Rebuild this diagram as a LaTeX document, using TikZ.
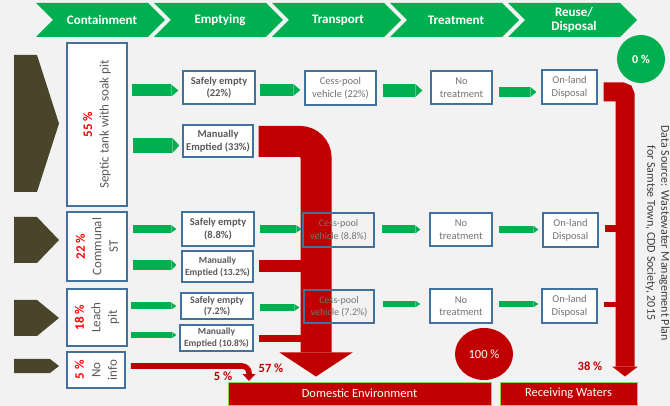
\documentclass[tikz,border=0pt]{standalone}
\usepackage{fontspec}
\setmainfont{Carlito}
\usetikzlibrary{arrows.meta,shapes.geometric,calc}
\definecolor{bgc}{HTML}{F2F2F2}
\definecolor{gr}{HTML}{00B050}
\definecolor{brn}{HTML}{4A452A}
\definecolor{bbl}{HTML}{41719C}
\definecolor{rd}{HTML}{C00000}
\definecolor{brd}{HTML}{FF0000}
\definecolor{lgr}{HTML}{92D050}
\definecolor{tg}{HTML}{595959}
\definecolor{tl}{HTML}{737373}
\definecolor{ds}{HTML}{404040}
\pgfdeclarelayer{bg}
\pgfdeclarelayer{mid}
\pgfsetlayers{bg,mid,main}
\begin{document}
\begin{tikzpicture}[x=1pt,y=-1pt,
  htext/.style={text=white, font=\bfseries\fontsize{13}{14}\selectfont, align=center, inner sep=0pt},
  cbox/.style={draw=bbl, line width=1.5pt, fill=white, inner sep=0pt},
  ctext/.style={rotate=90, align=center, text=tg, font=\fontsize{13}{16.5}\selectfont, inner sep=0pt},
  ebox/.style={draw=bbl, line width=1.3pt, fill=white, inner sep=0pt, align=center, text=tg, font=\bfseries\fontsize{10.5}{12.5}\selectfont},
  tbox/.style={draw=bbl, line width=1.3pt, fill=white, inner sep=0pt, align=center, text=tl, font=\fontsize{10.5}{12.5}\selectfont},
  garr/.style 2 args={draw=gr, line width=#1, -{Triangle[length=#2,width=#1,line width=0pt]}},
  rline/.style={draw=rd, line width=#1},
  endbox/.style={draw=lgr, line width=1pt, fill=rd, text=white, inner sep=0pt, font=\fontsize{12.5}{14}\selectfont},
  pct/.style={text=rd, font=\bfseries\fontsize{12.5}{14}\selectfont, inner sep=0pt}
]
\begin{pgfonlayer}{bg}
\fill[bgc] (0,0) rectangle (670,406);
\end{pgfonlayer}
\useasboundingbox (0,0) rectangle (670,406);

% header chevrons
\fill[gr] (36,3) -- (148,3) -- (165,20) -- (148,37) -- (36,37) -- (53,20) -- cycle;
\node[htext] (h1) at (102,20) {Containment};
\fill[gr] (154,3) -- (266,3) -- (283,20) -- (266,37) -- (154,37) -- (171,20) -- cycle;
\node[htext] (h2) at (220,20) {Emptying};
\fill[gr] (272,3) -- (384,3) -- (401,20) -- (384,37) -- (272,37) -- (289,20) -- cycle;
\node[htext] (h3) at (338,20) {Transport};
\fill[gr] (390,3) -- (502,3) -- (519,20) -- (502,37) -- (390,37) -- (407,20) -- cycle;
\node[htext] (h4) at (456,20) {Treatment};
\fill[gr] (508,3) -- (620,3) -- (637,20) -- (620,37) -- (508,37) -- (525,20) -- cycle;
\node[htext] (h5) at (574,20) {Reuse/\\Disposal};

% brown source chevrons
\fill[brn] (14,55) -- (37,55) -- (59,123.5) -- (37,192) -- (14,192) -- cycle;
\fill[brn] (14,217) -- (37,217) -- (59,240) -- (37,263) -- (14,263) -- cycle;
\fill[brn] (14,300) -- (37,300) -- (59,318) -- (37,336) -- (14,336) -- cycle;
\fill[brn] (14,359) -- (50,359) -- (59,366) -- (50,373) -- (14,373) -- cycle;

% containment boxes
\node[cbox, minimum width=60, minimum height=163] (sep) at (97,124.5) {};
\node[ctext] (sept) at (sep) {\textcolor{brd}{\bfseries 55 \%}\\Septic tank with soak pit};
\node[cbox, minimum width=60, minimum height=69] (com) at (97,246.5) {};
\node[ctext] (comt) at (com) {\textcolor{brd}{\bfseries 22 \%}\\Communal\\ST};
\node[cbox, minimum width=60, minimum height=57] (lea) at (97,317.5) {};
\node[ctext] (leat) at (lea) {\textcolor{brd}{\bfseries 18 \%}\\Leach\\pit};
\node[cbox, minimum width=58, minimum height=36] (noi) at (96,370) {};
\node[ctext] (noit) at (noi) {\textcolor{brd}{\bfseries 5 \%}\\No\\info};

% emptying boxes
\node[ebox, minimum width=72, minimum height=33] (sa1) at (219,87.5) {Safely empty\\(22\%)};
\node[ebox, minimum width=70, minimum height=32] (me1) at (218,141) {Manually\\Emptied (33\%)};
\node[ebox, minimum width=72, minimum height=34] (sa2) at (218,229) {Safely empty\\(8.8\%)};
\node[ebox, minimum width=71, minimum height=31, font=\bfseries\fontsize{9.5}{12}\selectfont] (me2) at (217.5,266.5) {Manually\\Emptied (13.2\%)};
\node[ebox, minimum width=72, minimum height=26, font=\bfseries\fontsize{10}{11.5}\selectfont] (sa3) at (217,306) {Safely empty\\(7.2\%)};
\node[ebox, minimum width=73, minimum height=26, font=\bfseries\fontsize{9.5}{11.5}\selectfont] (me3) at (216.5,338) {Manually\\Emptied (10.8\%)};

% transport boxes
\node[tbox, minimum width=71, minimum height=34] (cp1) at (340.5,88) {Cess-pool\\vehicle (22\%)};
\node[tbox, fill=none, minimum width=71, minimum height=34, font=\fontsize{10}{12.5}\selectfont] (cp2) at (338.5,230) {Cess-pool\\vehicle (8.8\%)};
\node[tbox, fill=none, minimum width=70, minimum height=33, font=\fontsize{10}{12.5}\selectfont] (cp3) at (339,306.5) {Cess-pool\\vehicle (7.2\%)};

% treatment boxes
\node[tbox, minimum width=61, minimum height=33] (nt1) at (461.5,87.5) {No\\treatment};
\node[tbox, minimum width=62, minimum height=33] (nt2) at (461,229.5) {No\\treatment};
\node[tbox, minimum width=62, minimum height=34] (nt3) at (461,306) {No\\treatment};

% disposal boxes
\node[tbox, minimum width=55, minimum height=34] (od1) at (569.5,87) {On-land\\Disposal};
\node[tbox, minimum width=55, minimum height=34] (od2) at (570.5,230) {On-land\\Disposal};
\node[tbox, minimum width=55, minimum height=34] (od3) at (569.5,306) {On-land\\Disposal};

% end boxes
\node[endbox, minimum width=263, minimum height=23] (dom) at (359.5,393.5) {Domestic Environment};
\node[endbox, minimum width=137, minimum height=23] (rw) at (568.5,393.5) {Receiving Waters};

% red flows
\begin{pgfonlayer}{mid}
\coordinate (bend) at (316,141.5);
\draw[rline=31pt, rounded corners=16pt, -{Triangle[length=24pt,width=73pt,line width=0pt]}, shorten <=5pt, shorten >=5pt]
  ($(me1.east)+(0,0.5)$) -- (bend) -- (bend |- dom.north);
\draw[rline=12pt, shorten <=5pt] (me2.east) -- (me2.east -| bend);
\draw[rline=7pt, shorten <=5pt] ($(me3.east)+(0,0.5)$) -- ($(me3.east -| bend)+(0,0.5)$);
\coordinate (ni) at (249,381);
\draw[rline=5.5pt, rounded corners=7pt, -{Triangle[length=7pt,width=13pt,line width=0pt]}, shorten <=5pt]
  ($(noi.east)+(0,-4)$) -- ($(noi.east -| ni)+(0,-4)$) -- (ni);
\coordinate (rs) at (625,92);
\draw[rline=19pt, rounded corners=3pt, -{Triangle[length=10pt,width=26pt,line width=0pt]}, shorten <=6pt, shorten >=5pt]
  ($(od1.east)+(0,5)$) -- (rs) -- (rs |- rw.north);
\draw[rline=7pt, shorten <=6pt] ($(od2.east)+(0,-1.5)$) -- ($(od2.east -| rs)+(0,-1.5)$);
\draw[rline=5pt, shorten <=6pt] ($(od3.east)+(0,-1)$) -- ($(od3.east -| rs)+(0,-1)$);
\end{pgfonlayer}

% green flows, row 1
\draw[garr={12pt}{7pt}, shorten <=4pt, shorten >=4pt] ($(sep.east |- sa1.west)+(0,3)$) -- ($(sa1.west)+(0,3)$);
\draw[garr={15pt}{7pt}, shorten <=5pt, shorten >=3pt] ($(sep.east |- me1.west)+(0,4.5)$) -- ($(me1.west)+(0,4.5)$);
\draw[garr={12pt}{7pt}, shorten <=4pt, shorten >=4pt] ($(sa1.east)+(0,2.5)$) -- ($(cp1.west |- sa1.east)+(0,2.5)$);
\draw[garr={13pt}{7pt}, shorten <=6pt, shorten >=8pt] ($(cp1.east |- nt1.west)+(0,3)$) -- ($(nt1.west)+(0,3)$);
\draw[garr={10pt}{6pt}, shorten <=6pt, shorten >=5pt] ($(nt1.east)+(0,4.5)$) -- ($(od1.west |- nt1.east)+(0,4.5)$);
% row 2
\draw[garr={7.5pt}{5pt}, shorten <=5pt, shorten >=5pt] (com.east |- sa2.west) -- (sa2.west);
\draw[garr={10pt}{5pt}, shorten <=5pt, shorten >=5pt] ($(com.east |- me2.west)+(0,-1.5)$) -- ($(me2.west)+(0,-1.5)$);
\draw[garr={7.5pt}{5pt}, shorten <=5pt, shorten >=1pt] (sa2.east) -- (cp2.west |- sa2.east);
\draw[garr={8pt}{5pt}, shorten <=7pt, shorten >=9pt] (cp2.east |- nt2.west) -- (nt2.west);
\draw[garr={7.5pt}{5pt}, shorten <=6pt, shorten >=4pt] (nt2.east) -- (od2.west |- nt2.east);
% row 3
\draw[garr={7pt}{5pt}, shorten <=3pt, shorten >=4pt] (lea.east |- sa3.west) -- (sa3.west);
\draw[garr={6pt}{4pt}, shorten <=3pt, shorten >=3pt] ($(lea.east |- me3.west)+(0,-3)$) -- ($(me3.west)+(0,-3)$);
\draw[garr={7pt}{5pt}, shorten <=6pt, shorten >=4pt] ($(sa3.east)+(0,1.5)$) -- ($(cp3.west |- sa3.east)+(0,1.5)$);
\draw[garr={6.5pt}{5pt}, shorten <=8pt, shorten >=9pt] ($(cp3.east |- nt3.west)+(0,-2)$) -- ($(nt3.west)+(0,-2)$);
\draw[garr={6.5pt}{5pt}, shorten <=6pt, shorten >=3pt] ($(nt3.east)+(0,-2)$) -- ($(od3.west |- nt3.east)+(0,-2)$);

% circles
\node[ellipse, fill=rd, minimum width=58, minimum height=52, inner sep=0pt, text=white, font=\fontsize{12.5}{14}\selectfont] (c100) at (484,354) {100 \%};
\node[circle, fill=gr, minimum size=48, inner sep=0pt, text=white, font=\bfseries\fontsize{12}{14}\selectfont] (c0) at (641,59) {0 \%};

% percentage labels
\node[pct] (p5) at (223,376) {5 \%};
\node[pct] (p57) at (271,368) {57 \%};
\node[pct] (p38) at (590,366) {38 \%};

% data source
\node[rotate=-90, align=center, text=ds, font=\fontsize{12}{14}\selectfont, inner sep=0pt] (src) at (657.5,233)
  {Data Source: Wastewater Management Plan\\for Samtse Town, CDD Society, 2015};
\end{tikzpicture}
\end{document}
